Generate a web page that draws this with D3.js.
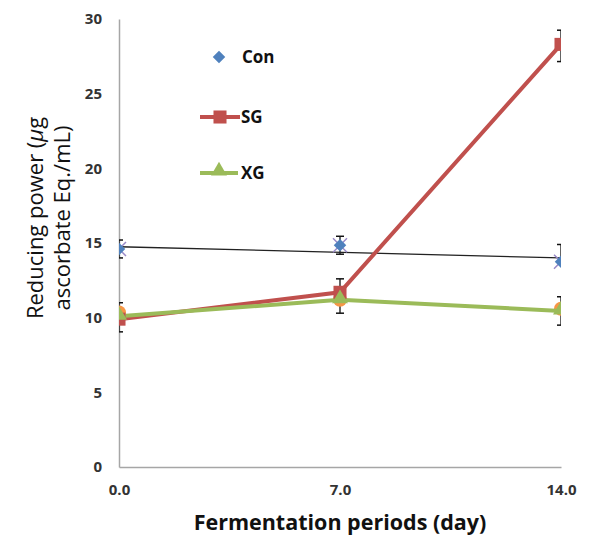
<!DOCTYPE html>
<html>
<head>
<meta charset="utf-8">
<script src="https://cdn.jsdelivr.net/npm/d3@7"></script>
<style>
	body { margin: 0; background: #fff; }
	svg text { font-family: "Open Sans", sans-serif; }
</style>
</head>
<body>
<div id="chart"></div>
<script>

var days      = [0, 7, 14];
var dayLabels = ["0.0", "7.0", "14.0"];
var yTicks    = [0, 5, 10, 15, 20, 25, 30];

var conValues = [14.6, 14.85, 13.75];
var conUp     = [0.6, 0.6, 1.15];
var conDown   = [0.6, 0.6, 0];
var conTrend  = [14.75, 14.0];   // thin black line, day 0 -> day 14

var sgValues  = [9.9, 11.7, 28.3];
var sgUp      = [1.1, 0.9, 0.95];
var sgDown    = [0, 0, 1.15];

var xgValues  = [10.1, 11.2, 10.45];
var xgUp      = [0, 0, 0.95];
var xgDown    = [1.05, 0.9, 0.95];

// hidden markers peeking out behind Con and XG
var crossValues  = [14.6, 14.85, 13.75];
var circleValues = [10.35, 11.2, 10.6];

var width = 589, height = 538;
var margin = { left: 119, right: 28, top: 19, bottom: 70 };

var svg = d3.select("#chart")
	.append("svg")
	.attr("width", width)
	.attr("height", height);

var x = d3.scaleLinear()
	.domain([0, 14])
	.range([margin.left, width - margin.right]);

var y = d3.scaleLinear()
	.domain([0, 30])
	.range([height - margin.bottom - 1, margin.top]);

svg.append("clipPath")
	.attr("id", "plot-clip")
	.append("rect")
	.attr("x", x(0))
	.attr("y", 0)
	.attr("width", x(14) - x(0))
	.attr("height", y(0));

// axes
var xAxis = svg.append("g")
	.attr("transform", "translate(0," + y(0) + ")")
	.call(d3.axisBottom(x).tickValues(days).tickSize(0).tickPadding(17)
		.tickFormat(function(d, i) { return dayLabels[i]; }));

var yAxis = svg.append("g")
	.attr("transform", "translate(" + x(0) + ",0)")
	.call(d3.axisLeft(y).tickValues(yTicks).tickSize(0).tickPadding(17));

[xAxis, yAxis].forEach(function(a) {
	a.select(".domain").attr("stroke", "#a6a6a6").attr("stroke-width", 1.5);
	a.selectAll("text")
		.style("font-size", "15px")
		.style("font-weight", "bold")
		.attr("fill", "#333");
});

var plot = svg.append("g").attr("clip-path", "url(#plot-clip)");

// error bars
function errorBars( values, up, down ) {
	days.forEach(function(d, i) {
		var cx = x(d);
		if (up[i] > 0) {
			plot.append("line")
				.attr("x1", cx).attr("x2", cx)
				.attr("y1", y(values[i])).attr("y2", y(values[i] + up[i]))
				.attr("stroke", "#111").attr("stroke-width", 1.3);
			plot.append("line")
				.attr("x1", cx - 4).attr("x2", cx + 4)
				.attr("y1", y(values[i] + up[i])).attr("y2", y(values[i] + up[i]))
				.attr("stroke", "#111").attr("stroke-width", 1.5);
		}
		if (down[i] > 0) {
			plot.append("line")
				.attr("x1", cx).attr("x2", cx)
				.attr("y1", y(values[i])).attr("y2", y(values[i] - down[i]))
				.attr("stroke", "#111").attr("stroke-width", 1.3);
			plot.append("line")
				.attr("x1", cx - 4).attr("x2", cx + 4)
				.attr("y1", y(values[i] - down[i])).attr("y2", y(values[i] - down[i]))
				.attr("stroke", "#111").attr("stroke-width", 1.5);
		}
	});
}

errorBars(conValues, conUp, conDown);
errorBars(sgValues, sgUp, sgDown);
errorBars(xgValues, xgUp, xgDown);

// Con trend line
plot.append("line")
	.attr("x1", x(0)).attr("y1", y(conTrend[0]))
	.attr("x2", x(14)).attr("y2", y(conTrend[1]))
	.attr("stroke", "#222")
	.attr("stroke-width", 1.3);

var line = d3.line()
	.x(function(d, i) { return x(days[i]); })
	.y(function(d) { return y(d); });

plot.append("path")
	.datum(sgValues)
	.attr("d", line)
	.attr("fill", "none")
	.attr("stroke", "#c0504d")
	.attr("stroke-width", 4);

// hidden purple crosses
days.forEach(function(d, i) {
	var cx = x(d), cy = y(crossValues[i]);
	plot.append("path")
		.attr("d", "M" + (cx - 7) + "," + (cy - 7) + "L" + (cx + 7) + "," + (cy + 7) +
			"M" + (cx - 7) + "," + (cy + 7) + "L" + (cx + 7) + "," + (cy - 7))
		.attr("stroke", "#9a8ac8")
		.attr("stroke-width", 1.5);
});

// hidden orange circles
plot.selectAll(".circ")
	.data(circleValues)
	.enter().append("circle")
	.attr("cx", function(d, i) { return x(days[i]); })
	.attr("cy", function(d) { return y(d); })
	.attr("r", 7)
	.attr("fill", "#f79646");

plot.append("path")
	.datum(xgValues)
	.attr("d", line)
	.attr("fill", "none")
	.attr("stroke", "#9bbb59")
	.attr("stroke-width", 4);

var diamond  = d3.symbol().type(d3.symbolDiamond2).size(100);
var square   = d3.symbol().type(d3.symbolSquare).size(170);
var triangle = d3.symbol().type(d3.symbolTriangle).size(110);

plot.selectAll(".con")
	.data(conValues)
	.enter().append("path")
	.attr("d", diamond)
	.attr("transform", function(d, i) { return "translate(" + x(days[i]) + "," + y(d) + ")"; })
	.attr("fill", "#4f81bd");

plot.selectAll(".sg")
	.data(sgValues)
	.enter().append("path")
	.attr("d", square)
	.attr("transform", function(d, i) { return "translate(" + x(days[i]) + "," + y(d) + ")"; })
	.attr("fill", "#c0504d");

plot.selectAll(".xg")
	.data(xgValues)
	.enter().append("path")
	.attr("d", triangle)
	.attr("transform", function(d, i) { return "translate(" + x(days[i]) + "," + (y(d) - 1) + ")"; })
	.attr("fill", "#9bbb59");

// legend
var legend = svg.append("g");

legend.append("path")
	.attr("d", diamond)
	.attr("transform", "translate(219,57)")
	.attr("fill", "#4f81bd");

legend.append("line")
	.attr("x1", 200).attr("x2", 240).attr("y1", 117).attr("y2", 117)
	.attr("stroke", "#c0504d").attr("stroke-width", 4);
legend.append("path")
	.attr("d", square)
	.attr("transform", "translate(220,117)")
	.attr("fill", "#c0504d");

legend.append("line")
	.attr("x1", 200).attr("x2", 238).attr("y1", 173).attr("y2", 173)
	.attr("stroke", "#9bbb59").attr("stroke-width", 4);
legend.append("path")
	.attr("d", triangle)
	.attr("transform", "translate(219,171)")
	.attr("fill", "#9bbb59");

var legendNames = ["Con", "SG", "XG"];
var legendY = [57, 117, 173];

legend.selectAll(".lab")
	.data(legendNames)
	.enter().append("text")
	.attr("x", function(d, i) { return i === 0 ? 242 : 241; })
	.attr("y", function(d, i) { return legendY[i]; })
	.attr("dy", "0.35em")
	.style("font-size", "17px")
	.style("font-weight", "bold")
	.attr("fill", "#111")
	.text(function(d) { return d; });

// axis titles
svg.append("text")
	.attr("x", x(7))
	.attr("y", 530)
	.attr("text-anchor", "middle")
	.style("font-size", "21.5px")
	.style("font-weight", "bold")
	.attr("fill", "#111")
	.text("Fermentation periods (day)");

var ytitle = svg.append("text")
	.attr("transform", "translate(43,218) rotate(-90)")
	.attr("text-anchor", "middle")
	.style("font-size", "22px")
	.attr("fill", "#111");

ytitle.append("tspan")
	.attr("x", 0).attr("y", 0)
	.text("Reducing power (");
ytitle.append("tspan")
	.style("font-style", "italic")
	.text("μ");
ytitle.append("tspan")
	.text("g");
ytitle.append("tspan")
	.attr("x", 0).attr("y", 27)
	.text("ascorbate  Eq./mL)");

</script>
</body>
</html>
